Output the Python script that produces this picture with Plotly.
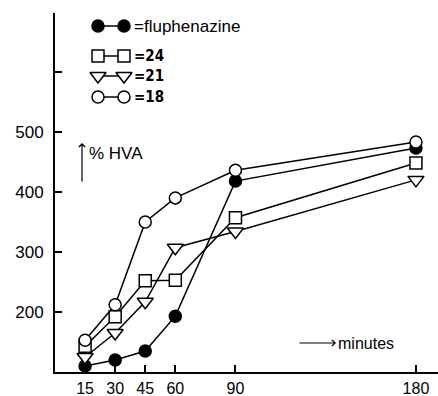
import plotly.graph_objects as go

# ---- data ----
minutes = [15, 30, 45, 60, 90, 180]
fluphenazine = [110, 120, 135, 193, 418, 473]
cmp24 = [143, 192, 252, 253, 357, 448]
cmp21 = [125, 165, 217, 307, 334, 420]
cmp18 = [153, 212, 350, 390, 436, 483]
ytick_vals = [200, 300, 400, 500, 600]
ytick_text = ["200", "300", "400", "500", ""]

series = [
    ("=fluphenazine", fluphenazine, "circle", "black", False),
    ("=24", cmp24, "square", "white", True),
    ("=21", cmp21, "triangle-down", "white", True),
    ("=18", cmp18, "circle", "white", True),
]

# ---- layout geometry (pixels) ----
W, H = 438, 396
L, R, T, B = 55, 0, 13, 24
FONT = "Liberation Sans, Arial, Helvetica, sans-serif"
NARROW = "Liberation Sans Narrow, Arial Narrow, DejaVu Sans Condensed, Liberation Sans, sans-serif"

fig = go.Figure()

for name, vals, sym, fill, _ in series:
    size = 14 if sym == "triangle-down" else 12
    fig.add_trace(go.Scatter(
        x=minutes, y=vals, mode="lines+markers", cliponaxis=False,
        line=dict(color="black", width=1.5),
        marker=dict(symbol=sym, size=size, color=fill,
                    line=dict(color="black", width=1.5)),
        showlegend=False, hoverinfo="skip",
    ))

# legend key drawn on a pixel-overlay axis
leg_rows = [26, 56, 76, 97]
leg_x = [98, 124]
leg_text_x = 132
for (name, vals, sym, fill, bold), ry in zip(series, leg_rows):
    size = 14 if sym == "triangle-down" else 12
    fig.add_trace(go.Scatter(
        x=leg_x, y=[ry, ry], xaxis="x2", yaxis="y2", mode="lines+markers",
        cliponaxis=False,
        line=dict(color="black", width=1.5),
        marker=dict(symbol=sym, size=size, color=fill,
                    line=dict(color="black", width=1.5)),
        showlegend=False, hoverinfo="skip",
    ))
    fig.add_annotation(
        x=leg_text_x, y=ry, xref="x2", yref="y2", text=("<b>%s</b>" % name) if bold else name,
        showarrow=False, xanchor="left", yanchor="middle",
        font=dict(family=NARROW if bold else FONT, size=15 if bold else 17, color="black"),
    )

# axis captions with arrows
fig.add_annotation(x=82, y=143, ax=82, ay=183, xref="x2", yref="y2", axref="x2", ayref="y2",
                   showarrow=True, arrowhead=4, arrowsize=1, arrowwidth=1.2, arrowcolor="black", text="")
fig.add_annotation(x=87, y=153, xref="x2", yref="y2", text="% HVA", showarrow=False,
                   xanchor="left", yanchor="middle", font=dict(family=FONT, size=17, color="black"))
fig.add_annotation(x=336, y=343, ax=298, ay=343, xref="x2", yref="y2", axref="x2", ayref="y2",
                   showarrow=True, arrowhead=4, arrowsize=1, arrowwidth=1.2, arrowcolor="black", text="")
fig.add_annotation(x=336, y=343, xref="x2", yref="y2", text="minutes", showarrow=False,
                   xanchor="left", yanchor="middle", font=dict(family=FONT, size=16, color="black"))

fig.update_layout(
    width=W, height=H, margin=dict(l=L, r=R, t=T, b=B, autoexpand=False),
    paper_bgcolor="white", plot_bgcolor="white",
    font=dict(family=FONT, color="black"),
    xaxis=dict(range=[0, 191], tickvals=minutes, ticktext=[str(m) for m in minutes],
               ticks="inside", ticklen=7, tickwidth=1.5, tickcolor="black", automargin=False,
               showline=True, linecolor="black", linewidth=2, showgrid=False, zeroline=False,
               tickfont=dict(size=16, family=FONT), ticklabelstandoff=1),
    yaxis=dict(range=[100, 698], tickvals=ytick_vals, ticktext=ytick_text,
               ticks="inside", ticklen=7, tickwidth=1.5, tickcolor="black", automargin=False,
               showline=True, linecolor="black", linewidth=2, showgrid=False, zeroline=False,
               tickfont=dict(size=17, family=FONT), ticklabelstandoff=6),
    xaxis2=dict(range=[L, W - R], overlaying="x", visible=False, fixedrange=True),
    yaxis2=dict(range=[H - B, T], overlaying="y", visible=False, fixedrange=True),
)

fig.write_html("out.html", config={"displayModeBar": False},
               post_script="document.body.style.margin='0';document.body.style.padding='0';")
